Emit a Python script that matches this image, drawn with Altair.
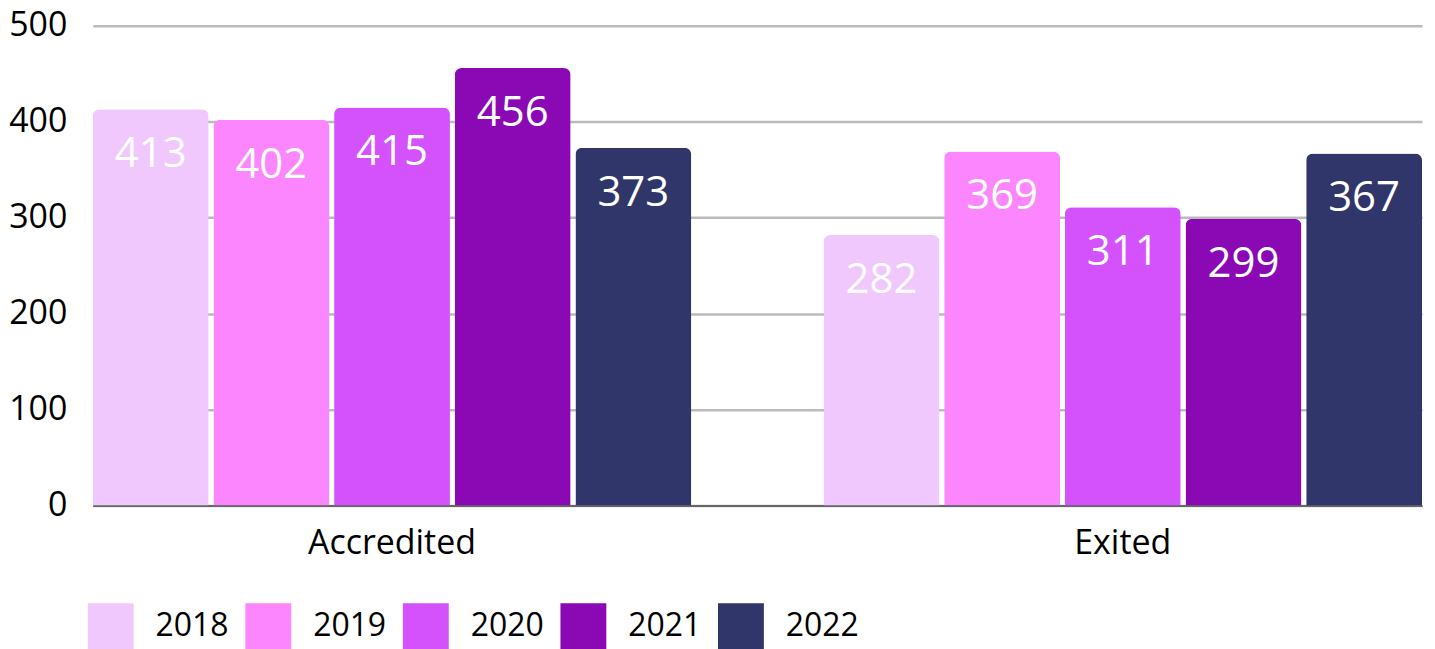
import altair as alt
import pandas as pd

categories = ["Accredited", "Exited"]
years = ["2018", "2019", "2020", "2021", "2022"]
accredited = [413, 402, 415, 456, 373]
exited = [282, 369, 311, 299, 367]
colors = ["#F0C8FD", "#FC86FD", "#D452FB", "#8A09B5", "#30356A"]

rows = []
for y, a, e in zip(years, accredited, exited):
    rows.append({"category": "Accredited", "year": y, "value": a})
    rows.append({"category": "Exited", "year": y, "value": e})
df = pd.DataFrame(rows)

FONT = "Open Sans"

x = alt.X("category:N", sort=categories, title=None,
          scale=alt.Scale(paddingInner=0.181, paddingOuter=0),
          axis=alt.Axis(labelAngle=0, labelFontSize=34, labelFont=FONT, labelColor="#000000",
                        ticks=False, labelPadding=21, domain=True, domainColor="#666666",
                        domainWidth=2))
xo = alt.XOffset("year:N", sort=years, scale=alt.Scale(paddingInner=0.04, paddingOuter=0))
y = alt.Y("value:Q", title=None, scale=alt.Scale(domain=[0, 500]),
          axis=alt.Axis(values=[0, 100, 200, 300, 400, 500], labelFontSize=34, labelFont=FONT,
                        labelColor="#000000", ticks=False, labelPadding=26, domain=False,
                        gridColor="#BBBBBB", gridWidth=2.5, minExtent=84, maxExtent=84))
color = alt.Color("year:N", sort=years, scale=alt.Scale(domain=years, range=colors),
                  legend=alt.Legend(title=None, orient="none", direction="horizontal",
                                    legendX=-5, legendY=579, symbolType="square",
                                    symbolSize=2116, symbolStrokeWidth=0, symbolOpacity=1,
                                    labelFontSize=32, labelFont=FONT, labelColor="#000000",
                                    labelOffset=22, columnPadding=16, padding=0))

bars = alt.Chart(df).mark_bar(cornerRadiusTopLeft=7, cornerRadiusTopRight=7).encode(
    x=x, xOffset=xo, y=y, color=color
)
labels = alt.Chart(df).mark_text(color="white", fontSize=42, font=FONT, baseline="middle",
                                 dy=45).encode(
    x=alt.X("category:N", sort=categories), xOffset=alt.XOffset("year:N", sort=years),
    y="value:Q", text="value:Q"
)

chart = alt.layer(bars, labels).properties(
    width=1333, height=481, padding={"top": 0, "left": 0, "right": 5, "bottom": 0}
).configure_view(stroke=None)

chart.save("out.html", embed_options={"renderer": "svg", "actions": False})
